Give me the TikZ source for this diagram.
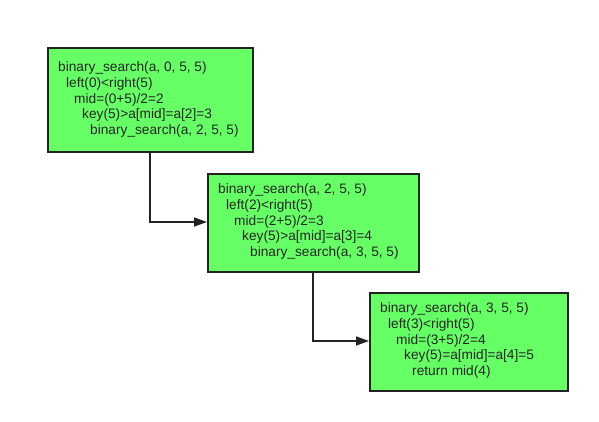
\documentclass[tikz,border=0pt]{standalone}
\usepackage{fontspec}
\setmainfont{Liberation Sans}
\usetikzlibrary{arrows.meta}
\definecolor{boxgreen}{RGB}{102,255,102}
\definecolor{edgegray}{RGB}{34,34,34}
\newcommand{\ind}[1]{\hspace*{#1pt}}
\begin{document}
\begin{tikzpicture}[x=1pt,y=-1pt,
  stepbox/.style={draw=edgegray,line width=1.8pt,fill=boxgreen,anchor=north west,inner sep=0pt},
  boxtext/.style={anchor=base west,align=left,inner sep=0pt,font=\fontsize{13.7}{15.8}\selectfont,text=black!85},
  conn/.style={draw=edgegray,line width=1.4pt,-{Triangle[length=13pt,width=9pt]}}]
\useasboundingbox[fill=white] (0,0) rectangle (599,422);
\node[stepbox,minimum width=205pt,minimum height=104pt] (b1) at (47,47) {};
\node[stepbox,minimum width=211pt,minimum height=98pt] (b2) at (207,173) {};
\node[stepbox,minimum width=198pt,minimum height=98pt] (b3) at (369,292) {};
\node[boxtext] (t1) at (58,134.7) {binary\_search(a, 0, 5, 5)\\\ind{8}left(0)<right(5)\\\ind{16}mid=(0+5)/2=2\\\ind{24}key(5)>a[mid]=a[2]=3\\\ind{32}binary\_search(a, 2, 5, 5)};
\node[boxtext] (t2) at (218,256.7) {binary\_search(a, 2, 5, 5)\\\ind{8}left(2)<right(5)\\\ind{16}mid=(2+5)/2=3\\\ind{24}key(5)>a[mid]=a[3]=4\\\ind{32}binary\_search(a, 3, 5, 5)};
\node[boxtext] (t3) at (380,375.7) {binary\_search(a, 3, 5, 5)\\\ind{8}left(3)<right(5)\\\ind{16}mid=(3+5)/2=4\\\ind{24}key(5)=a[mid]=a[4]=5\\\ind{32}return mid(4)};
\coordinate (c1) at (150,222);
\coordinate (c2) at (313,341);
\draw[conn] (b1.south -| c1) -- (c1) -- (b2.west |- c1);
\draw[conn] (b2.south -| c2) -- (c2) -- (b3.west |- c2);
\end{tikzpicture}
\end{document}
